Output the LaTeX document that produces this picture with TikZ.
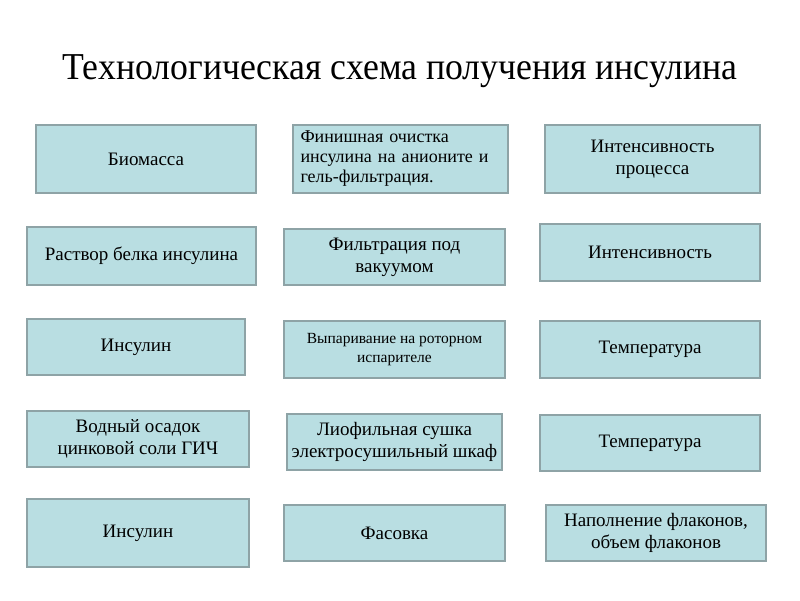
\documentclass[tikz,border=0pt]{standalone}
\usepackage{fontspec}
\setmainfont{Liberation Serif}
\newfontfamily\titlefont[FakeStretch=0.94]{Liberation Serif}
\usepackage{tikz}
\definecolor{boxfill}{HTML}{B9DEE2}
\definecolor{boxline}{HTML}{8EA3A6}

\begin{document}
\begin{tikzpicture}[x=1pt, y=-1pt,
    every node/.style={inner sep=0pt},
    box/.style={draw=boxline, fill=boxfill, line width=2pt, align=center,
      font=\fontsize{19}{22}\selectfont, minimum height=56pt, minimum width=220pt}]
    \useasboundingbox[fill=white] (0,0) rectangle (800,600);
    \node [font=\titlefont\fontsize{38}{44}\selectfont] (title) at (400,71) {Технологическая схема получения инсулина};
    % first column
    \node [box, minimum width=220pt, minimum height=68pt] (biomass) at (146,159) {Биомасса};
    \node [box, minimum width=229pt, minimum height=58pt] (solution) at (141.5,256) {Раствор белка инсулина};
    \node [box, minimum width=218pt] (insulin1) at (136,347) {Инсулин};
    \node [box, minimum width=222pt] (sediment) at (138,439) {Водный осадок\\цинковой соли ГИЧ};
    \node [box, minimum width=222pt, minimum height=68pt] (insulin2) at (138,533) {Инсулин};
    % second column
    \node [box, minimum width=215pt, minimum height=68pt, align=left, text width=200pt,
      font=\fontsize{18}{20}\selectfont] (cleaning) at (400.5,159) {Финишная очистка\\инсулина на анионите и\\гель-фильтрация.};
    \node [box, minimum width=221pt] (filtration) at (394.5,257) {Фильтрация под\\вакуумом};
    \node [box, minimum width=221pt, minimum height=57pt, font=\fontsize{15.5}{19}\selectfont] (evaporation) at (394.5,349.5) {Выпаривание на роторном\\испарителе};
    \node [box, minimum width=215pt] (drying) at (394.5,442) {Лиофильная сушка\\электросушильный шкаф};
    \node [box, minimum width=221pt] (packing) at (394.5,533) {Фасовка};
    % third column
    \node [box, minimum width=215pt, minimum height=68pt] (intensity1) at (652.5,159) {Интенсивность\\процесса};
    \node [box, minimum height=57pt] (intensity2) at (650,252.5) {Интенсивность};
    \node [box, minimum height=57pt] (temp1) at (650,349.5) {Температура};
    \node [box] (temp2) at (650,443) {Температура};
    \node [box] (filling) at (656,533) {Наполнение флаконов,\\объем флаконов};
\end{tikzpicture}
\end{document}
